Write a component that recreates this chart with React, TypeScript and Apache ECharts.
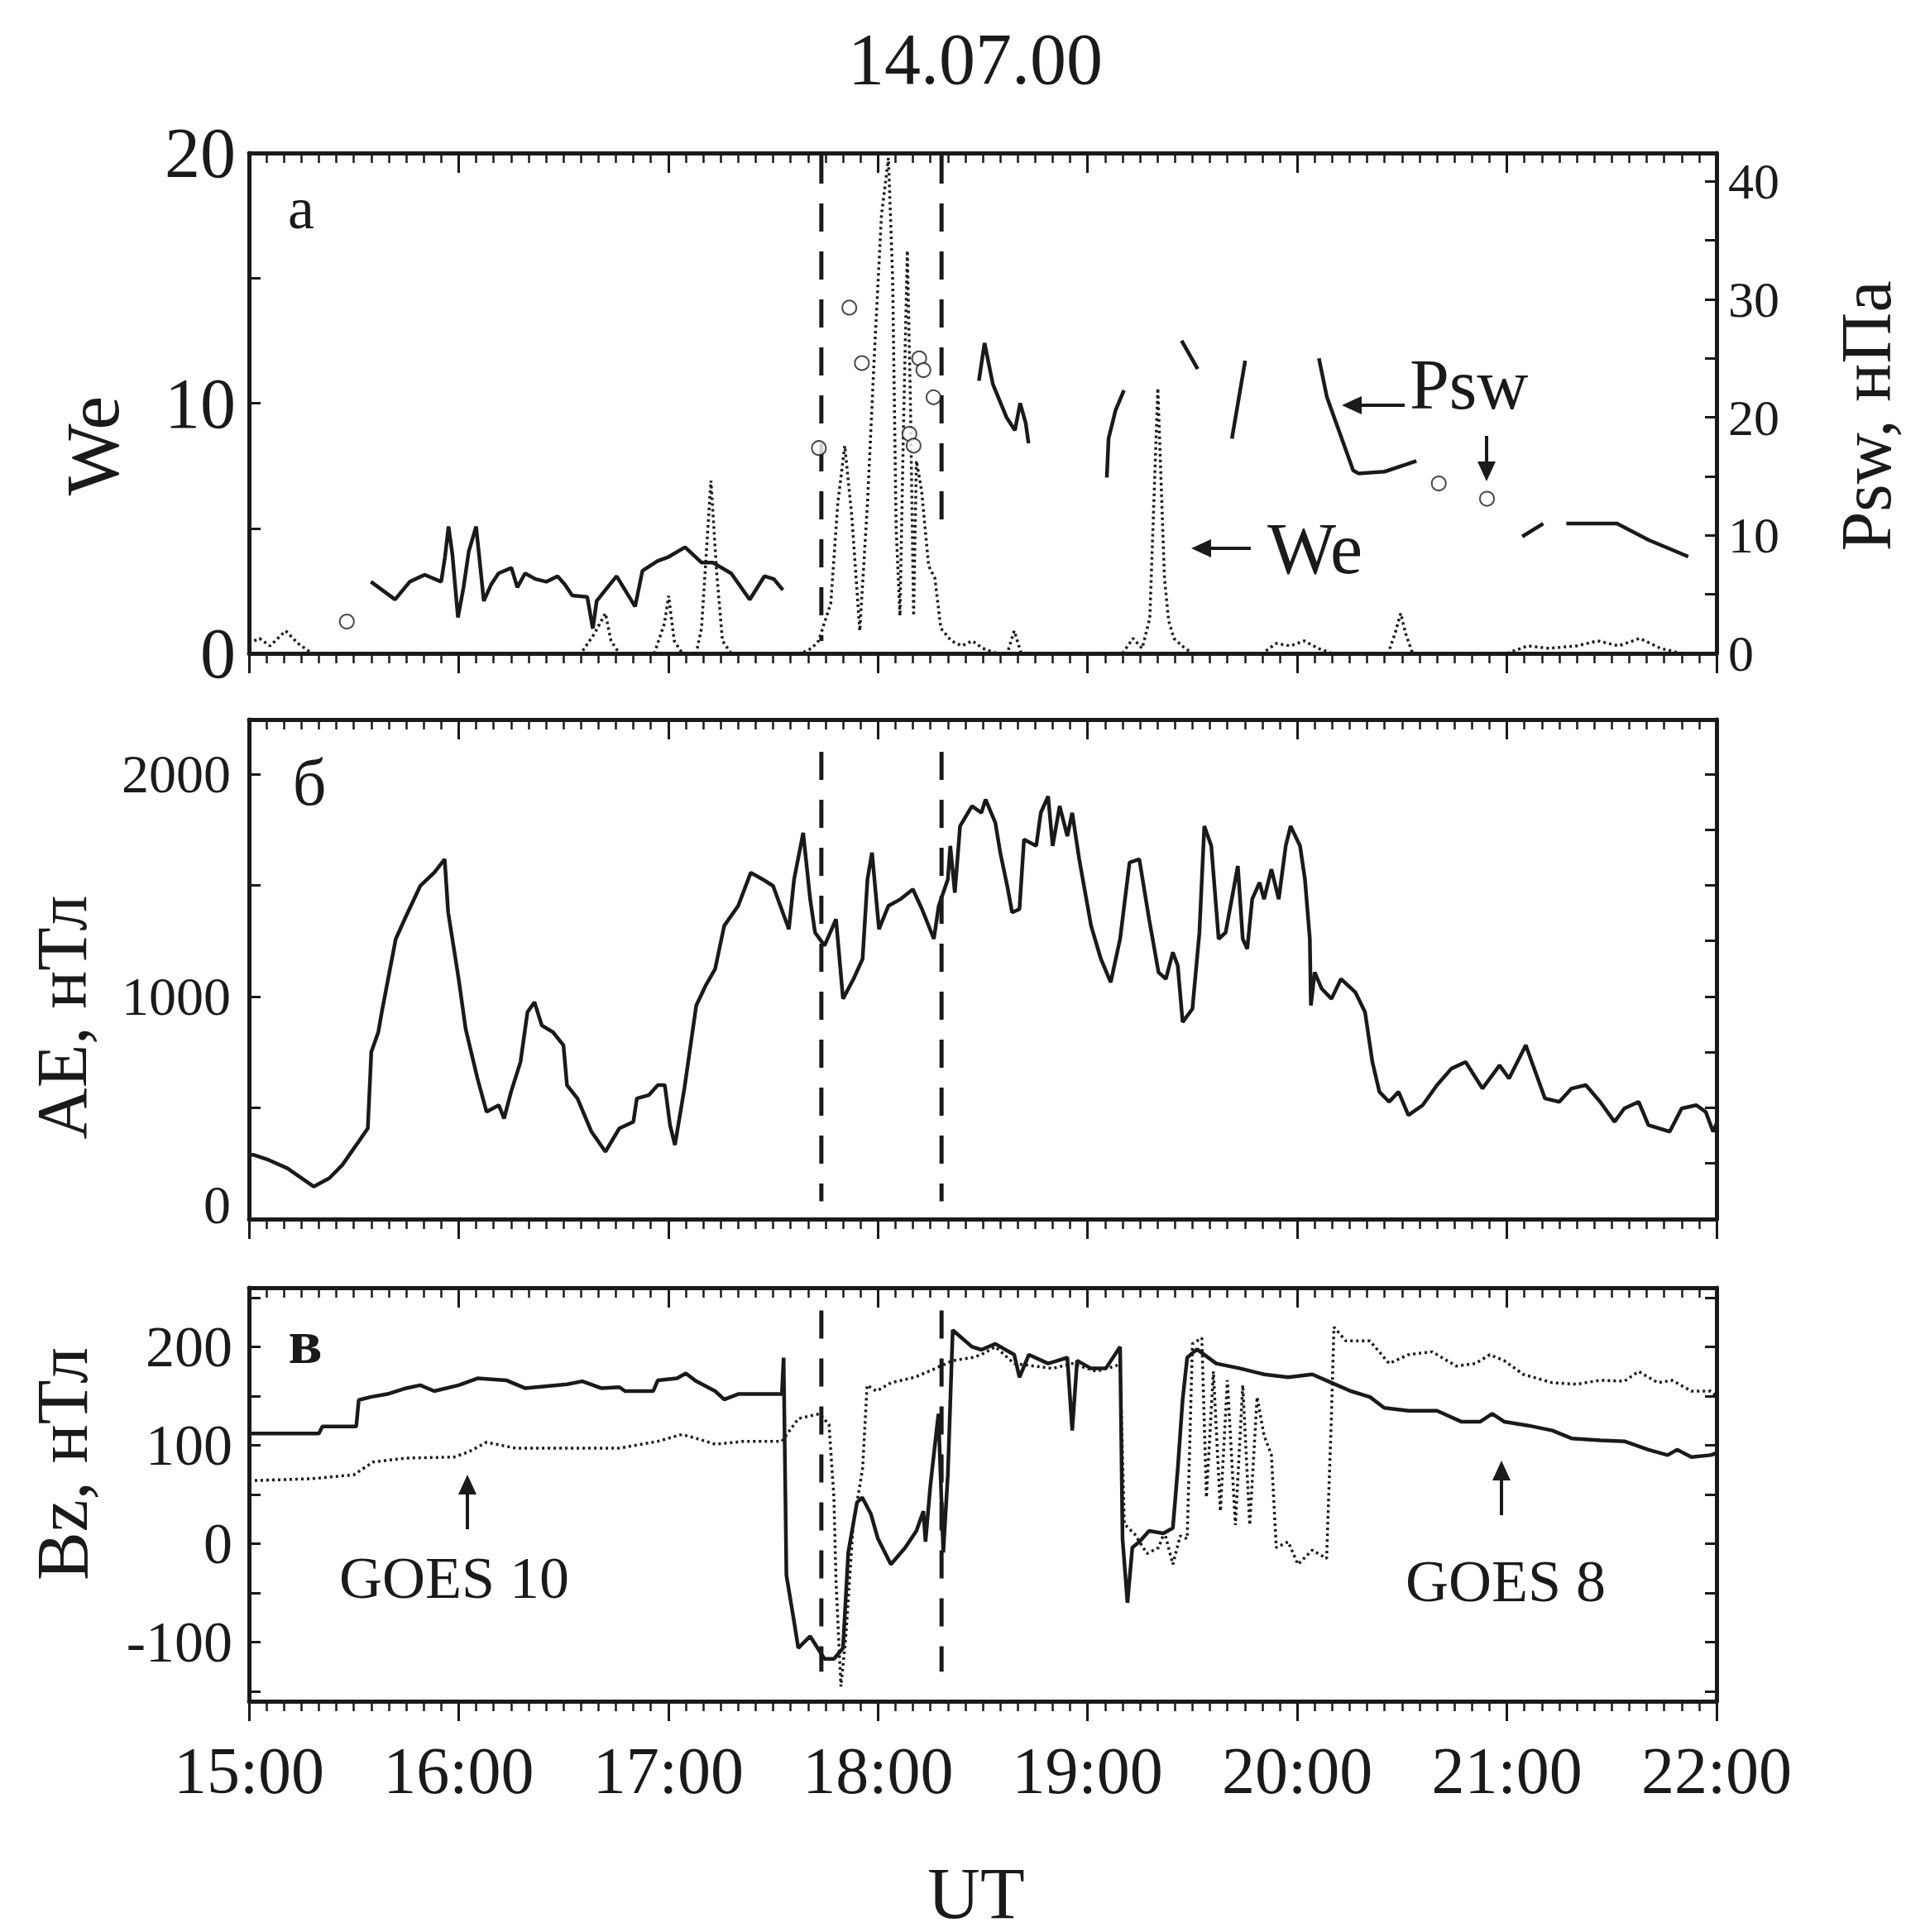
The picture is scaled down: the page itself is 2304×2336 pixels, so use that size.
import React, { useEffect, useRef } from "react";
import * as echarts from "echarts";

// ---------- text ----------
const TITLE = "14.07.00";
const X_TITLE = "UT";
const X_TICK_LABELS = ["15:00", "16:00", "17:00", "18:00", "19:00", "20:00", "21:00", "22:00"];

// time is in minutes after 15:00 UT
// ---------- panel a ----------
const WE_TICKS = [0, 5, 10, 15, 20];
const WE_LABELS = [0, 10, 20];
const PSW_TICKS = [0, 5, 10, 15, 20, 25, 30, 35, 40];
const PSW_LABELS = [0, 10, 20, 30, 40];

const WE_SERIES: [number, number][] = [
  [0, 0.4], [3, 0.6], [6, 0.3], [10.5, 0.9], [14, 0.4], [18, 0], [95, 0], [98.9, 0.8], [102, 1.6],
  [103.6, 0.5], [106, 0], [116, 0], [118.9, 1.2], [120.1, 2.3], [121.7, 0.5], [124, 0], [128, 0],
  [129.5, 1.0], [130.6, 3.4], [132.2, 6.9], [133.8, 3.3], [135.5, 0.5], [138, 0], [158, 0],
  [161, 0.2], [163, 0.5], [166.5, 2], [168.5, 6], [170.5, 8.3], [172.5, 5.5], [174.8, 0.9],
  [177, 6], [179, 12], [181, 17.5], [183, 19.8], [184.2, 15], [185.2, 5], [186.3, 1.5], [187.3, 9],
  [188.4, 16.1], [189.3, 10], [190.2, 1.5], [191, 7.7], [192.5, 6.5], [194.5, 3.5], [196.3, 3],
  [198, 1], [201, 0.5], [204, 0.3], [207, 0.5], [210, 0.2], [214, 0], [217, 0], [219, 0.9], [221, 0],
  [250, 0], [253, 0.6], [255.6, 0.2], [257.8, 1.4], [260.1, 10.6], [262, 3], [263.2, 1.3],
  [264.7, 0.6], [267, 0.3], [270, 0], [290, 0], [294, 0.4], [298, 0.3], [302, 0.5], [306, 0.2],
  [310, 0], [326, 0], [328, 0.8], [329.6, 1.6], [331, 0.8], [333, 0], [360, 0], [366, 0.3],
  [372, 0.2], [380, 0.3], [386, 0.5], [392, 0.3], [398, 0.6], [404, 0.2], [410, 0],
];

const PSW_SEG_1: [number, number][] = [
  [34.9, 6.07], [41.8, 4.56], [46, 6.07], [50.3, 6.66], [55, 6.07], [56.1, 8.18], [57.1, 10.75],
  [58.2, 8.4], [59.8, 3.04], [61.4, 5.6], [62.9, 8.64], [65, 10.75], [67.2, 4.44], [69.3, 5.84],
  [71.4, 6.78], [75.1, 7.24], [76.8, 5.6], [79, 6.78], [82, 6.3], [85.1, 6.07], [88.3, 6.54],
  [90.4, 5.84], [92.5, 4.9], [96.8, 4.79], [98.4, 2.1], [99.5, 4.44], [102, 5.37], [105.2, 6.54],
  [110.5, 3.97], [112.6, 7], [116.9, 7.83], [120.1, 8.18], [124.8, 9], [129.5, 7.7], [132.7, 7.7],
  [138, 6.78], [143.3, 4.56], [147.5, 6.54], [150.2, 6.3], [152.8, 5.37],
];
const PSW_SEG_2: [number, number][] = [
  [208.9, 23.1], [210.5, 26.3], [212.9, 22.8], [216.8, 20.0], [219.2, 18.9], [220.7, 21.2],
  [222.3, 19.5], [223.1, 17.8],
];
const PSW_SEG_3: [number, number][] = [[245.5, 14.9], [246, 18.2], [248, 20.6], [250.4, 22.3]];
const PSW_SEG_4: [number, number][] = [[266.9, 26.5], [271.5, 24.1]];
const PSW_SEG_5: [number, number][] = [[281.3, 18.2], [285.1, 24.8]];
const PSW_SEG_6: [number, number][] = [
  [306.2, 25], [308.5, 21.7], [316, 15.5], [317.5, 15.25], [325, 15.4], [331.1, 16], [334.1, 16.3],
];
const PSW_SEG_7: [number, number][] = [[364.4, 9.9], [370.4, 11.0]];
const PSW_SEG_8: [number, number][] = [[377, 11], [391.5, 11], [400.6, 9.6], [411.9, 8.2]];
const PSW_SEGMENTS = [PSW_SEG_1, PSW_SEG_2, PSW_SEG_3, PSW_SEG_4, PSW_SEG_5, PSW_SEG_6, PSW_SEG_7, PSW_SEG_8];

const PSW_POINTS: [number, number][] = [
  [28, 2.7], [163.1, 17.4], [171.8, 29.3], [175.4, 24.6], [189, 18.6], [190.2, 17.6],
  [191.8, 25.0], [193, 24.0], [195.9, 21.7], [340.5, 14.4], [354.3, 13.1],
];

// ---------- panel b ----------
const AE_TICKS = [0, 500, 1000, 1500, 2000];
const AE_RIGHT_TICKS = [0, 250, 500, 750, 1000, 1250, 1500, 1750, 2000];
const AE_LABELS = [0, 1000, 2000];
const AE_SERIES: [number, number][] = [
  [0, 290], [1.5, 288], [5.6, 266], [11, 228], [18.5, 146], [23, 184], [26.7, 243], [30.7, 333],
  [34, 408], [35, 751], [37, 840], [38, 930], [42, 1259], [45, 1363], [49, 1497], [53, 1557],
  [56, 1617], [57, 1378], [60, 1079], [62, 855], [65.4, 631], [68, 482], [71.5, 512], [73, 452],
  [75, 572], [77.7, 706], [79.7, 930], [81.7, 975], [83.8, 870], [87, 840], [90, 781], [91, 602],
  [94, 542], [98, 393], [102, 303], [106, 408], [110, 437], [111, 542], [114.4, 557], [117, 602],
  [119, 602], [120.5, 422], [121.9, 333], [124.6, 587], [128, 960], [130.7, 1050], [133.4, 1124],
  [136, 1318], [140, 1408], [143.6, 1557], [147, 1527], [150, 1497], [154.5, 1303], [156, 1527],
  [158.6, 1736], [160.6, 1438], [162, 1288], [164.7, 1229], [168, 1348], [170, 990], [173, 1079],
  [175.6, 1169], [177, 1527], [178.3, 1647], [180.3, 1303], [183, 1408], [186.5, 1438], [190, 1482],
  [192.6, 1393], [196, 1259], [197.4, 1408], [200, 1527], [200.7, 1677], [202, 1467], [203.5, 1766],
  [206.9, 1856], [209.6, 1826], [210.8, 1886], [213.6, 1781], [215, 1647], [217, 1497],
  [218.4, 1378], [220.5, 1393], [221.8, 1706], [225.3, 1677], [226.6, 1826], [228.7, 1900],
  [230, 1677], [232, 1856], [234.2, 1721], [235.6, 1826], [237.6, 1617], [241, 1318], [243.8, 1169],
  [246.6, 1064], [249.3, 1259], [252, 1602], [254.8, 1617], [257.6, 1348], [260.3, 1109],
  [262.4, 1079], [264.4, 1199], [265.8, 1139], [267.2, 885], [270, 945], [272, 1288], [273.4, 1766],
  [275.4, 1677], [277.5, 1259], [279.5, 1288], [283, 1587], [284.4, 1259], [285.7, 1214],
  [287.1, 1438], [289.2, 1512], [290.5, 1438], [292.6, 1572], [294.7, 1438], [296.7, 1677],
  [298.1, 1766], [300.8, 1677], [302.2, 1527], [303.6, 1259], [303.9, 960], [305, 1109], [307, 1035],
  [309.8, 990], [312.5, 1079], [316.6, 1020], [319.4, 930], [321.5, 706], [323.5, 572], [326.3, 527],
  [329, 572], [331.8, 467], [335.9, 512], [340, 602], [344.1, 676], [348.2, 706], [353, 587],
  [357.9, 691], [360.6, 632], [365.4, 781], [370.9, 542], [375, 527], [378.5, 587], [382.6, 602],
  [386.7, 527], [390.8, 437], [393.6, 497], [397.7, 527], [400.5, 422], [406.6, 393], [410, 497],
  [414.2, 512], [416.9, 482], [419, 393], [420, 430],
];

// ---------- panel c ----------
const BZ_TICKS = [-150, -100, -50, 0, 50, 100, 150, 200, 250];
const BZ_LABELS = [-100, 0, 100, 200];
const GOES8_SERIES: [number, number][] = [
  [0, 112], [20, 112], [21, 119], [30.7, 119], [31.4, 146], [34.8, 149], [39.6, 152], [45, 158],
  [49, 161], [53, 155], [60, 161], [65.4, 168], [73.6, 166], [79, 158], [91, 162], [95.4, 165],
  [100.8, 158], [106, 159], [107.6, 155], [115.7, 155], [117, 166], [122.5, 168], [125, 173],
  [128, 165], [133.4, 155], [136, 146.5], [140, 152], [152.5, 152], [153, 189], [153.8, -32],
  [155.9, -77], [157.2, -106], [160.6, -94], [164.7, -117], [167.4, -117], [170, -106], [171.5, -9],
  [174, 42], [175.5, 47], [178, 30], [180, 5], [183.7, -21], [187.8, -4], [191, 13], [193, 33],
  [193.6, 2], [195, 59], [197.3, 132], [198.7, -9], [200, 70], [201.4, 217], [204, 209],
  [206.9, 200], [209.6, 197], [213.6, 203], [219, 192], [220.5, 169], [223.2, 192], [228.7, 183],
  [234.2, 189], [235.6, 115], [237, 186], [241, 178], [245.2, 178], [249.3, 200], [250, 5],
  [251.4, -60], [252.8, -4], [254.8, 2], [257.6, 13], [261.7, 10.5], [264.4, 16], [265.8, 76],
  [267.2, 146.5], [268.5, 189], [271.3, 197.5], [276.8, 183], [283.7, 178], [290.5, 172],
  [297.4, 169], [304.3, 172], [309.8, 163.5], [315.3, 155], [320.8, 149], [324.9, 138],
  [331.8, 135], [340, 135], [346.9, 124], [352.4, 124], [355.8, 132], [359.2, 124], [366.1, 120],
  [373, 115], [378.5, 107], [386.7, 105], [393.6, 104], [400.5, 95.5], [406, 90], [408.7, 95.5],
  [412.8, 88], [418.3, 90], [420, 92],
];
const GOES10_SERIES: [number, number][] = [
  [0, 64], [17.8, 66], [30, 70], [35.5, 83], [45, 87], [58.6, 88], [62.7, 93], [68, 103],
  [76.3, 97], [92.6, 97], [106, 97], [117, 104], [123.9, 111], [128, 107], [133.4, 101],
  [141.6, 104], [152.5, 104], [157.2, 127], [163.3, 132], [166, 121], [167.4, 47], [168, -38],
  [169.4, -145], [170.8, -94], [172.9, 19], [175.6, 76], [176.9, 161], [179.6, 155], [183.7, 163.5],
  [190.5, 169], [194.5, 175], [201.4, 186], [206.9, 189], [209.6, 192], [213.6, 200], [219, 183],
  [224.6, 180.5], [230, 178], [235.6, 183], [242.5, 175], [248, 180.5], [249.3, 183], [250.5, 20],
  [253.4, 10], [257, -10], [260.3, -4], [262, 12], [264.4, -21], [266.5, 8], [268.5, 5], [270, 203],
  [272.7, 209], [274, 47], [276, 175], [278, 33], [280, 166], [282.3, 19], [284.4, 161],
  [286.4, 19], [288.5, 149], [290.5, 110], [292.6, 90], [294, -4], [297.4, 2], [300.2, -21],
  [304.3, -6.5], [308.4, -15], [309.8, 132], [310.5, 220], [313.9, 206], [320.8, 206],
  [326.3, 183], [331.8, 192], [338.6, 195], [345.5, 180.5], [351, 183], [355.1, 192], [359.2, 186],
  [364.7, 172], [373, 163.5], [379.9, 162], [386.7, 166], [393.6, 165], [397.7, 175],
  [403.2, 163.5], [407.3, 166], [412.8, 155], [418.3, 155], [420, 150],
];

// ---------- dashed event markers (minutes after 15:00) and their vertical extents ----------
const EVENT_TIMES = [163.8, 198.2];
const EVENT_EXTENT_A: [number, number][] = [[19.9, 0.5], [19.9, 4.6]];
const EVENT_EXTENT_B: [number, number][] = [[2100, 80], [2100, 80]];
const EVENT_EXTENT_C: [number, number][] = [[237, -130], [237, -130]];

const INK = "#1a1a1a";
const FONT = "Liberation Serif, Times New Roman, serif";

function App() {
  const ref = useRef<HTMLDivElement>(null);

  useEffect(() => {
    document.body.style.margin = "0";
    if (!ref.current) return;
    const chart = echarts.init(ref.current, null, { renderer: "svg" });

    const L = 301;
    const R = 2304 - 2075;
    const grids = [
      { left: L, right: R, top: 185, height: 605 },
      { left: L, right: R, top: 870, height: 604 },
      { left: L, right: R, top: 1557, height: 500 },
    ];

    const xAxisFor = (gridIndex: number, position: "top" | "bottom", showLabel: boolean) => ({
      type: "value",
      gridIndex,
      position,
      min: 0,
      max: 420,
      interval: 60,
      axisLine: { show: true, onZero: false, lineStyle: { color: INK, width: 5 } },
      axisTick: { show: true, inside: position === "top", length: 24, lineStyle: { color: INK, width: 3 } },
      minorTick: { show: true, splitNumber: 12, length: 12, lineStyle: { color: INK, width: 2.5 } },
      axisLabel: {
        show: showLabel,
        margin: 44,
        fontSize: 80,
        fontFamily: FONT,
        color: INK,
        formatter: (v: number) => X_TICK_LABELS[Math.round(v / 60)] ?? "",
      },
      splitLine: { show: false },
      minorSplitLine: { show: false },
    });

    const yAxisFor = (
      gridIndex: number,
      position: "left" | "right",
      min: number,
      max: number,
      ticks: number[],
      labels: number[] | null,
      fontSize: number,
      margin: number,
      zeroLift = 0
    ) => ({
      type: "value",
      gridIndex,
      position,
      min,
      max,
      axisLine: { show: true, onZero: false, lineStyle: { color: INK, width: 5 } },
      axisTick: { show: true, inside: true, length: 14, customValues: ticks, lineStyle: { color: INK, width: 3 } },
      axisLabel: labels
        ? {
            show: true,
            customValues: labels,
            fontSize,
            fontFamily: FONT,
            color: INK,
            margin,
            formatter: (v: number) => (zeroLift && v === 0 ? "{z|0}" : String(v)),
            rich: { z: { fontSize, fontFamily: FONT, color: INK, padding: [0, 0, zeroLift, 0] } },
          }
        : { show: false },
      splitLine: { show: false },
    });

    const dashSeries = (xi: number, yi: number, extents: [number, number][]) =>
      EVENT_TIMES.map((t, i) => ({
        type: "line",
        xAxisIndex: xi,
        yAxisIndex: yi,
        data: [[t, extents[i][0]], [t, extents[i][1]]],
        symbol: "none",
        silent: true,
        lineStyle: { color: INK, width: 5, type: [34, 24] },
        z: 1,
      }));

    const dotted = { color: INK, width: 3.5, type: [3, 4] };
    const solid = { color: INK, width: 4.5 };

    const txt = (
      text: string,
      x: number,
      y: number,
      fontSize: number,
      rotation = 0,
      align = "center",
      extra: any = {}
    ) => ({
      type: "text",
      x,
      y,
      rotation,
      style: {
        text,
        fontSize,
        fontFamily: FONT,
        fill: INK,
        align,
        verticalAlign: "middle",
        textAlign: align,
        textVerticalAlign: "middle",
        ...extra,
      },
      z: 10,
    });

    const arrow = (x1: number, y1: number, x2: number, y2: number) => {
      const dx = x2 - x1;
      const dy = y2 - y1;
      const len = Math.sqrt(dx * dx + dy * dy);
      const ux = dx / len;
      const uy = dy / len;
      const hl = 24;
      const hw = 11;
      const bx = x2 - ux * hl;
      const by = y2 - uy * hl;
      return [
        { type: "line", shape: { x1, y1, x2: bx, y2: by }, style: { stroke: INK, lineWidth: 4 }, z: 10 },
        {
          type: "polygon",
          shape: { points: [[x2, y2], [bx - uy * hw, by + ux * hw], [bx + uy * hw, by - ux * hw]] },
          style: { fill: INK },
          z: 10,
        },
      ];
    };

    const option: any = {
      animation: false,
      backgroundColor: "#ffffff",
      grid: grids,
      xAxis: [
        xAxisFor(0, "bottom", false),
        xAxisFor(1, "bottom", false),
        xAxisFor(2, "bottom", true),
        xAxisFor(0, "top", false),
        xAxisFor(1, "top", false),
        xAxisFor(2, "top", false),
      ],
      yAxis: [
        yAxisFor(0, "left", 0, 20, WE_TICKS, WE_LABELS, 86, 16),
        yAxisFor(0, "right", 0, 42.4, PSW_TICKS, PSW_LABELS, 62, 14),
        yAxisFor(1, "left", 0, 2245, AE_TICKS, AE_LABELS, 66, 22, 36),
        yAxisFor(1, "right", 0, 2245, AE_RIGHT_TICKS, null, 0, 0),
        yAxisFor(2, "left", -160, 260, BZ_TICKS, BZ_LABELS, 70, 20),
        yAxisFor(2, "right", -160, 260, BZ_TICKS, null, 0, 0),
      ],
      series: [
        {
          name: "We",
          type: "line",
          xAxisIndex: 0,
          yAxisIndex: 0,
          data: WE_SERIES,
          symbol: "none",
          lineStyle: dotted,
          z: 3,
        },
        ...PSW_SEGMENTS.map((seg, i) => ({
          name: "Psw" + i,
          type: "line",
          xAxisIndex: 0,
          yAxisIndex: 1,
          data: seg,
          symbol: "none",
          lineStyle: solid,
          z: 4,
        })),
        {
          name: "Psw points",
          type: "scatter",
          xAxisIndex: 0,
          yAxisIndex: 1,
          data: PSW_POINTS,
          symbol: "emptyCircle",
          symbolSize: 17,
          itemStyle: { color: INK, borderColor: INK, borderWidth: 3.5 },
          z: 5,
        },
        ...dashSeries(0, 0, EVENT_EXTENT_A),
        {
          name: "AE",
          type: "line",
          xAxisIndex: 1,
          yAxisIndex: 2,
          data: AE_SERIES,
          symbol: "none",
          lineStyle: solid,
          z: 3,
        },
        ...dashSeries(1, 2, EVENT_EXTENT_B),
        {
          name: "GOES 8",
          type: "line",
          xAxisIndex: 2,
          yAxisIndex: 4,
          data: GOES8_SERIES,
          symbol: "none",
          lineStyle: solid,
          z: 4,
        },
        {
          name: "GOES 10",
          type: "line",
          xAxisIndex: 2,
          yAxisIndex: 4,
          data: GOES10_SERIES,
          symbol: "none",
          lineStyle: dotted,
          z: 3,
        },
        ...dashSeries(2, 4, EVENT_EXTENT_C),
      ],
      graphic: [
        txt(TITLE, 1179, 71, 88),
        txt(X_TITLE, 1180, 2333, 88, 0, "center", { verticalAlign: "bottom", textVerticalAlign: "bottom" }),
        txt("We", 112, 539, 92, Math.PI / 2),
        txt("AE, нТл", 75, 1230, 86, Math.PI / 2),
        txt("Bz, нТл", 75, 1770, 88, Math.PI / 2),
        txt("Psw, нПа", 2256, 503, 86, Math.PI / 2),
        txt("a", 364, 252, 72),
        txt("б", 374, 946, 80),
        txt("в", 369, 1622, 76, 0, "center", { fontWeight: "bold" }),
        txt("Psw", 1704, 465, 86, 0, "left"),
        txt("We", 1532, 663, 88, 0, "left"),
        txt("GOES 10", 549, 1908, 72),
        txt("GOES 8", 1820, 1912, 72),
        ...arrow(1698, 490, 1622, 490),
        ...arrow(1797, 527, 1797, 582),
        ...arrow(1512, 663, 1440, 663),
        ...arrow(565, 1849, 565, 1783),
        ...arrow(1815, 1832, 1815, 1766),
      ],
    };

    chart.setOption(option);
    return () => chart.dispose();
  }, []);

  return <div ref={ref} style={{ width: 2304, height: 2336 }} />;
}

export default App;
